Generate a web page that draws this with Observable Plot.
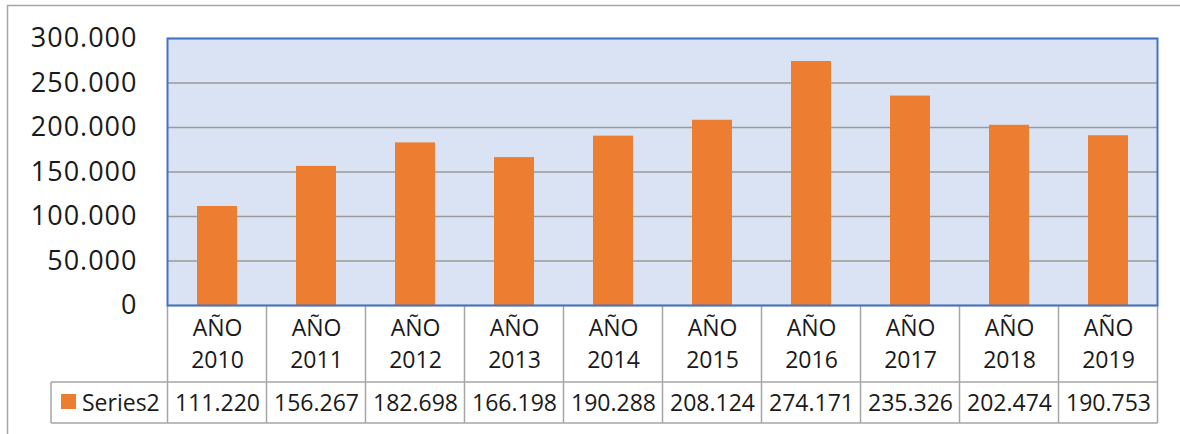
<!DOCTYPE html>
<html>
<head>
<meta charset="utf-8">
<script src="https://cdn.jsdelivr.net/npm/d3@7"></script>
<script src="https://cdn.jsdelivr.net/npm/@observablehq/plot@0.6"></script>
<style>
  html, body { margin: 0; padding: 0; background: #fff; overflow: hidden; }
  #chart { position: relative; width: 1180px; height: 434px; }
</style>
</head>
<body>
<div id="chart"></div>
<script>
const years = ["2010","2011","2012","2013","2014","2015","2016","2017","2018","2019"];
const values = [111220, 156267, 182698, 166198, 190288, 208124, 274171, 235326, 202474, 190753];
const yTicks = [0, 50000, 100000, 150000, 200000, 250000, 300000];
const seriesName = "Series2";
const catPrefix = "AÑO";

const data = years.map((y, i) => ({year: y, value: values[i]}));
const fmt = v => v === 0 ? "0" : d3.format(",.0f")(v).replace(/,/g, ".");

const FONT = "Open Sans";
const TXT = "#1a1a1a";
const plot = Plot.plot({
  width: 1180,
  height: 434,
  marginLeft: 167,
  marginRight: 23,
  marginTop: 38,
  marginBottom: 129,
  style: {fontFamily: FONT, fontSize: "23px", color: TXT, background: "transparent"},
  x: {domain: years, paddingInner: 0.6, paddingOuter: 0.3, axis: null},
  y: {domain: [0, 300000], ticks: yTicks, axis: null},
  marks: [
    Plot.frame({fill: "#DAE3F3", stroke: null}),
    Plot.gridY(yTicks, {stroke: "#9a9a9a", strokeOpacity: 1, strokeWidth: 1.5}),
    Plot.barY(data, {x: "year", y: "value", fill: "#ED7D31"}),
    Plot.frame({stroke: "#4472C4", strokeWidth: 2}),
    Plot.axisY(yTicks, {tickSize: 0, tickPadding: 30, tickFormat: fmt, fontSize: 27, fill: TXT, label: null}),
    Plot.text(data, {x: "year", text: d => catPrefix, frameAnchor: "bottom", lineAnchor: "middle", dy: 23, fontSize: 23, fill: TXT}),
    Plot.text(data, {x: "year", text: d => d.year, frameAnchor: "bottom", lineAnchor: "middle", dy: 55, fontSize: 23, fill: TXT}),
    Plot.text(data, {x: "year", text: d => fmt(d.value), frameAnchor: "bottom", lineAnchor: "middle", dy: 98, fontSize: 23, fill: TXT})
  ]
});
document.getElementById("chart").appendChild(plot);

// Data-table grid drawn with Plot's x scale
const svg = d3.select(plot);
svg.selectAll("g[aria-label='y-axis tick label'] text").attr("letter-spacing", "1px");
const xs = plot.scale("x");
const step = xs.step;
const rowTop = 305, rowMid = 382, rowBot = 423, legendLeft = 51;
const g = svg.insert("g", ":first-child").attr("stroke", "#A6A6A6").attr("stroke-width", 1.5).attr("fill", "none");
const edges = years.map(y => xs.apply(y) + xs.bandwidth / 2 - step / 2);
edges.push(xs.apply(years[years.length - 1]) + xs.bandwidth / 2 + step / 2);
edges.forEach(x => g.append("line").attr("x1", x).attr("x2", x).attr("y1", rowTop).attr("y2", rowBot));
g.append("line").attr("x1", legendLeft).attr("x2", edges[edges.length - 1]).attr("y1", rowMid).attr("y2", rowMid);
g.append("line").attr("x1", legendLeft).attr("x2", edges[edges.length - 1]).attr("y1", rowBot).attr("y2", rowBot);
g.append("line").attr("x1", legendLeft).attr("x2", legendLeft).attr("y1", rowMid).attr("y2", rowBot);
// outer chart border
g.append("rect").attr("x", 7.5).attr("y", 5.5).attr("width", 1300).attr("height", 600).attr("stroke", "#A6A6A6");
// legend key
svg.append("rect").attr("x", 61).attr("y", 394).attr("width", 15).attr("height", 15).attr("fill", "#ED7D31");
svg.append("text").attr("x", 82).attr("y", (rowMid + rowBot) / 2).attr("dy", "0.35em")
  .attr("text-anchor", "start").attr("font-size", 23).attr("fill", TXT).text(seriesName);
</script>
</body>
</html>
